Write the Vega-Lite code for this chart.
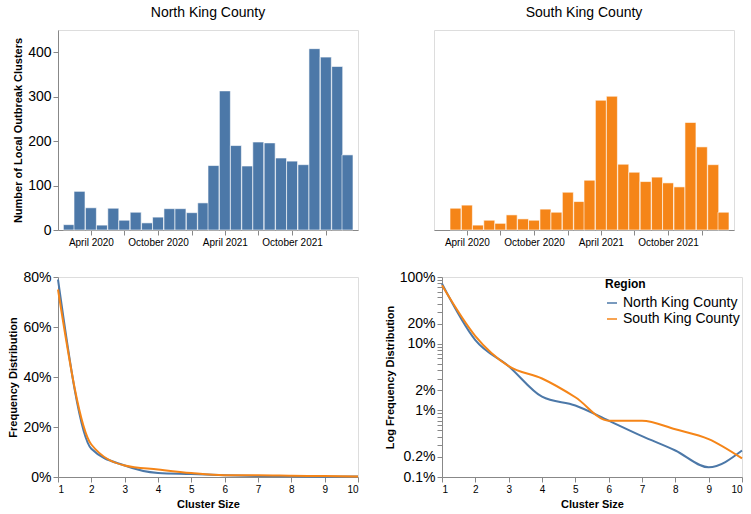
{
  "$schema": "https://vega.github.io/schema/vega-lite/v6.json",
  "padding": {"left": 7, "top": 5, "right": 5, "bottom": 5},
  "config": {
    "font": "Liberation Sans",
    "axis": {"grid": false, "labelFontSize": 10, "titleFontSize": 11},
    "axisY": {"labelFontSize": 14},
    "view": {"stroke": "#ddd"},
    "title": {"fontSize": 14, "fontWeight": "normal", "anchor": "middle", "offset": 10}
  },
  "datasets": {
    "monthly": [
      {"region": "North King County", "month": "2020-02-01T00:00", "clusters": 12},
      {"region": "North King County", "month": "2020-03-01T00:00", "clusters": 87},
      {"region": "North King County", "month": "2020-04-01T00:00", "clusters": 50},
      {"region": "North King County", "month": "2020-05-01T00:00", "clusters": 11},
      {"region": "North King County", "month": "2020-06-01T00:00", "clusters": 49},
      {"region": "North King County", "month": "2020-07-01T00:00", "clusters": 22},
      {"region": "North King County", "month": "2020-08-01T00:00", "clusters": 40},
      {"region": "North King County", "month": "2020-09-01T00:00", "clusters": 16},
      {"region": "North King County", "month": "2020-10-01T00:00", "clusters": 29},
      {"region": "North King County", "month": "2020-11-01T00:00", "clusters": 48},
      {"region": "North King County", "month": "2020-12-01T00:00", "clusters": 48},
      {"region": "North King County", "month": "2021-01-01T00:00", "clusters": 39},
      {"region": "North King County", "month": "2021-02-01T00:00", "clusters": 61},
      {"region": "North King County", "month": "2021-03-01T00:00", "clusters": 145},
      {"region": "North King County", "month": "2021-04-01T00:00", "clusters": 313},
      {"region": "North King County", "month": "2021-05-01T00:00", "clusters": 190},
      {"region": "North King County", "month": "2021-06-01T00:00", "clusters": 144},
      {"region": "North King County", "month": "2021-07-01T00:00", "clusters": 198},
      {"region": "North King County", "month": "2021-08-01T00:00", "clusters": 196},
      {"region": "North King County", "month": "2021-09-01T00:00", "clusters": 162},
      {"region": "North King County", "month": "2021-10-01T00:00", "clusters": 155},
      {"region": "North King County", "month": "2021-11-01T00:00", "clusters": 147},
      {"region": "North King County", "month": "2021-12-01T00:00", "clusters": 408},
      {"region": "North King County", "month": "2022-01-01T00:00", "clusters": 389},
      {"region": "North King County", "month": "2022-02-01T00:00", "clusters": 368},
      {"region": "North King County", "month": "2022-03-01T00:00", "clusters": 169},
      {"region": "South King County", "month": "2020-03-01T00:00", "clusters": 49},
      {"region": "South King County", "month": "2020-04-01T00:00", "clusters": 56},
      {"region": "South King County", "month": "2020-05-01T00:00", "clusters": 11},
      {"region": "South King County", "month": "2020-06-01T00:00", "clusters": 22},
      {"region": "South King County", "month": "2020-07-01T00:00", "clusters": 15},
      {"region": "South King County", "month": "2020-08-01T00:00", "clusters": 34},
      {"region": "South King County", "month": "2020-09-01T00:00", "clusters": 25},
      {"region": "South King County", "month": "2020-10-01T00:00", "clusters": 22},
      {"region": "South King County", "month": "2020-11-01T00:00", "clusters": 47},
      {"region": "South King County", "month": "2020-12-01T00:00", "clusters": 40},
      {"region": "South King County", "month": "2021-01-01T00:00", "clusters": 85},
      {"region": "South King County", "month": "2021-02-01T00:00", "clusters": 64},
      {"region": "South King County", "month": "2021-03-01T00:00", "clusters": 112},
      {"region": "South King County", "month": "2021-04-01T00:00", "clusters": 292},
      {"region": "South King County", "month": "2021-05-01T00:00", "clusters": 301},
      {"region": "South King County", "month": "2021-06-01T00:00", "clusters": 148},
      {"region": "South King County", "month": "2021-07-01T00:00", "clusters": 130},
      {"region": "South King County", "month": "2021-08-01T00:00", "clusters": 109},
      {"region": "South King County", "month": "2021-09-01T00:00", "clusters": 119},
      {"region": "South King County", "month": "2021-10-01T00:00", "clusters": 106},
      {"region": "South King County", "month": "2021-11-01T00:00", "clusters": 97},
      {"region": "South King County", "month": "2021-12-01T00:00", "clusters": 242},
      {"region": "South King County", "month": "2022-01-01T00:00", "clusters": 187},
      {"region": "South King County", "month": "2022-02-01T00:00", "clusters": 147},
      {"region": "South King County", "month": "2022-03-01T00:00", "clusters": 40}
    ],
    "dist": [
      {"region": "North King County", "size": 1, "freq": 0.79},
      {"region": "North King County", "size": 2, "freq": 0.113},
      {"region": "North King County", "size": 3, "freq": 0.046},
      {"region": "North King County", "size": 4, "freq": 0.016},
      {"region": "North King County", "size": 5, "freq": 0.0118},
      {"region": "North King County", "size": 6, "freq": 0.007},
      {"region": "North King County", "size": 7, "freq": 0.0041},
      {"region": "North King County", "size": 8, "freq": 0.0025},
      {"region": "North King County", "size": 9, "freq": 0.0014},
      {"region": "North King County", "size": 10, "freq": 0.0025},
      {"region": "South King County", "size": 1, "freq": 0.75},
      {"region": "South King County", "size": 2, "freq": 0.13},
      {"region": "South King County", "size": 3, "freq": 0.046},
      {"region": "South King County", "size": 4, "freq": 0.03},
      {"region": "South King County", "size": 5, "freq": 0.0157},
      {"region": "South King County", "size": 6, "freq": 0.007},
      {"region": "South King County", "size": 7, "freq": 0.007},
      {"region": "South King County", "size": 8, "freq": 0.0052},
      {"region": "South King County", "size": 9, "freq": 0.0037},
      {"region": "South King County", "size": 10, "freq": 0.0019}
    ]
  },
  "spacing": 21,
  "resolve": {"legend": {"color": "independent"}, "scale": {"color": "independent"}},
  "vconcat": [
    {
      "spacing": 74,
      "hconcat": [
        {
          "title": "North King County",
          "width": 300,
          "height": 200,
          "data": {"name": "monthly"},
          "transform": [{"filter": "datum.region === 'North King County'"}],
          "mark": {"type": "bar", "width": 11, "stroke": "white", "strokeWidth": 1, "strokeOpacity": 0.6, "color": "#4c78a8"},
          "encoding": {
            "x": {"field": "month", "type": "temporal", "title": null,
                  "scale": {"domain": [{"year": 2020, "month": 1, "date": 16}, {"year": 2022, "month": 3, "date": 16}]},
                  "axis": {"format": "%B %Y", "tickCount": {"interval": "month", "step": 3}}},
            "y": {"field": "clusters", "type": "quantitative", "title": "Number of Local Outbreak Clusters",
                  "scale": {"domain": [0, 450]}}
          }
        },
        {
          "title": "South King County",
          "width": 300,
          "height": 200,
          "data": {"name": "monthly"},
          "transform": [{"filter": "datum.region === 'South King County'"}],
          "mark": {"type": "bar", "width": 11, "stroke": "white", "strokeWidth": 1, "strokeOpacity": 0.6, "color": "#f58518"},
          "encoding": {
            "x": {"field": "month", "type": "temporal", "title": null,
                  "scale": {"domain": [{"year": 2020, "month": 1, "date": 16}, {"year": 2022, "month": 3, "date": 16}]},
                  "axis": {"format": "%B %Y", "tickCount": {"interval": "month", "step": 3}}},
            "y": {"field": "clusters", "type": "quantitative", "axis": null,
                  "scale": {"domain": [0, 450]}}
          }
        }
      ]
    },
    {
      "spacing": 20,
      "resolve": {"legend": {"color": "independent"}, "scale": {"color": "independent"}},
      "hconcat": [
        {
          "width": 300,
          "height": 200,
          "data": {"name": "dist"},
          "mark": {"type": "line", "interpolate": "monotone", "strokeWidth": 2},
          "encoding": {
            "x": {"field": "size", "type": "quantitative", "title": "Cluster Size",
                  "scale": {"domain": [1, 10]}, "axis": {"tickCount": 10}},
            "y": {"field": "freq", "type": "quantitative", "title": "Frequency Distribution",
                  "scale": {"domain": [0, 0.8]}, "axis": {"format": ".0%", "tickCount": 5}},
            "color": {"field": "region", "type": "nominal",
                      "scale": {"domain": ["North King County", "South King County"], "range": ["#4c78a8", "#f58518"]},
                      "legend": null}
          }
        },
        {
          "width": 300,
          "height": 200,
          "data": {"name": "dist"},
          "mark": {"type": "line", "interpolate": "monotone", "strokeWidth": 2},
          "encoding": {
            "x": {"field": "size", "type": "quantitative", "title": "Cluster Size",
                  "scale": {"domain": [1, 10]}, "axis": {"tickCount": 10}},
            "y": {"field": "freq", "type": "quantitative", "title": "Log Frequency Distribution",
                  "scale": {"type": "log", "domain": [0.001, 1]}, "axis": {"format": "%", "tickCount": 6}},
            "color": {"field": "region", "type": "nominal", "title": "Region",
                      "scale": {"domain": ["North King County", "South King County"], "range": ["#4c78a8", "#f58518"]},
                      "legend": {"orient": "top-right", "offset": 2, "labelFontSize": 14, "titleFontSize": 12}}
          }
        }
      ]
    }
  ]
}
